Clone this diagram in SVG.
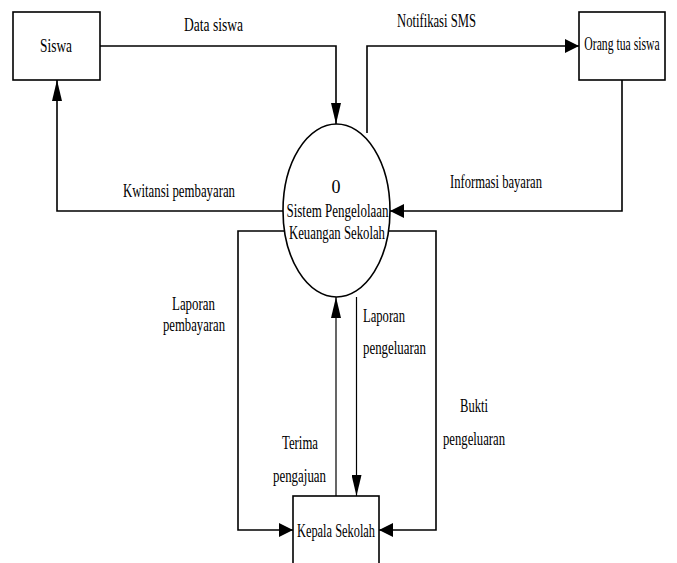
<svg xmlns="http://www.w3.org/2000/svg" width="677" height="563" viewBox="0 0 677 563">
<style>
.box{fill:#fff;stroke:#000;stroke-width:1.6}
.ln{fill:none;stroke:#000;stroke-width:1.6}
.thin{fill:none;stroke:#000;stroke-width:1.2}
text{font-family:'Liberation Serif','DejaVu Serif',serif;font-size:18px;fill:#000;text-anchor:middle}
</style>
<defs>
<marker id="ah" markerUnits="userSpaceOnUse" markerWidth="14" markerHeight="14" refX="14" refY="7" orient="auto">
<path d="M0,0 L14,7 L0,14 z" fill="#000"/>
</marker>
<marker id="av" markerUnits="userSpaceOnUse" markerWidth="21" markerHeight="10" refX="21" refY="5" orient="auto">
<path d="M0,0 L21,5 L0,10 z" fill="#000"/>
</marker>
</defs>
<rect width="677" height="563" fill="#fff"/>
<g id="connectors">
<path class="ln" d="M100,46 H336 V124" marker-end="url(#av)"/>
<path class="ln" d="M284,211 H57 V80" marker-end="url(#av)"/>
<path class="ln" d="M367,133 V46 H579" marker-end="url(#ah)"/>
<path class="ln" d="M622,80 V211 H390" marker-end="url(#ah)"/>
<path class="ln" d="M285,231 H238 V530 H293" marker-end="url(#ah)"/>
<path class="ln" d="M388,231 H436 V530 H379" marker-end="url(#ah)"/>
<path class="thin" d="M336,496 V297" marker-end="url(#av)"/>
<path class="thin" d="M356.5,297 V496" marker-end="url(#av)"/>
<text x="213.5" y="31" textLength="59" lengthAdjust="spacingAndGlyphs">Data siswa</text>
<text x="179" y="197" textLength="112" lengthAdjust="spacingAndGlyphs">Kwitansi pembayaran</text>
<text x="436.5" y="27" textLength="79" lengthAdjust="spacingAndGlyphs">Notifikasi SMS</text>
<text x="496" y="188" textLength="92" lengthAdjust="spacingAndGlyphs">Informasi bayaran</text>
<text x="193.5" y="310" textLength="43" lengthAdjust="spacingAndGlyphs">Laporan</text>
<text x="194" y="331" textLength="62" lengthAdjust="spacingAndGlyphs">pembayaran</text>
<text x="384" y="322" textLength="42" lengthAdjust="spacingAndGlyphs">Laporan</text>
<text x="394.5" y="354" textLength="63" lengthAdjust="spacingAndGlyphs">pengeluaran</text>
<text x="474" y="412" textLength="28" lengthAdjust="spacingAndGlyphs">Bukti</text>
<text x="474" y="445" textLength="62" lengthAdjust="spacingAndGlyphs">pengeluaran</text>
<text x="300" y="449" textLength="36" lengthAdjust="spacingAndGlyphs">Terima</text>
<text x="299.5" y="482" textLength="53" lengthAdjust="spacingAndGlyphs">pengajuan</text>
</g>
<g id="siswa">
<rect class="box" x="13" y="12" width="87" height="68"/>
<text x="56" y="52" textLength="32" lengthAdjust="spacingAndGlyphs">Siswa</text>
</g>
<g id="orangtua">
<rect class="box" x="579" y="12" width="86" height="68"/>
<text transform="translate(622,50) scale(0.65,1)" x="0" y="0">Orang tua siswa</text>
</g>
<g id="proses">
<ellipse class="box" cx="336.5" cy="210.5" rx="53.5" ry="86.5"/>
<text x="336" y="193">0</text>
<text x="337.5" y="217" textLength="102" lengthAdjust="spacingAndGlyphs">Sistem Pengelolaan</text>
<text x="337" y="239" textLength="96" lengthAdjust="spacingAndGlyphs">Keuangan Sekolah</text>
</g>
<g id="kepala">
<rect class="box" x="293" y="496" width="86" height="80"/>
<text x="336" y="537" textLength="78" lengthAdjust="spacingAndGlyphs">Kepala Sekolah</text>
</g>
</svg>
